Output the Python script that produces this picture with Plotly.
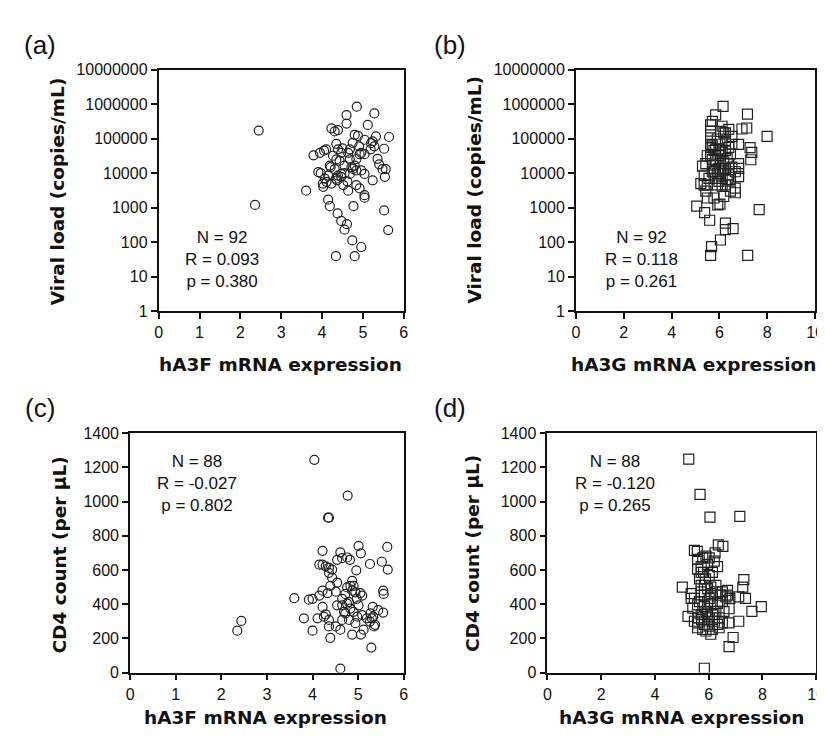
import plotly.graph_objects as go

# ---------------- data ----------------
a3f_vl_x = [2.45, 2.36, 3.61, 3.79, 3.95, 4.10, 3.91, 3.97, 4.02, 4.03, 4.15, 4.21, 4.23, 4.31, 4.39, 4.35,
            4.39, 4.27, 4.35, 4.31, 4.39, 4.37, 4.23, 4.15, 4.19, 4.38, 4.47, 4.55, 4.61, 4.34, 4.60, 4.60,
            4.85, 4.75, 5.12, 5.28, 5.32, 5.64, 5.24, 5.28, 5.52, 5.36, 5.40, 5.48, 5.56, 5.54, 5.24, 5.52,
            5.62, 4.77, 4.96, 4.74, 4.80, 5.04, 5.04, 4.92, 4.84, 4.64, 4.52, 5.04, 4.96, 4.84, 4.72, 4.80,
            4.68, 4.55, 4.47, 4.84, 4.92, 4.96, 5.04, 4.91, 5.04, 4.68, 4.64, 4.47, 4.43, 4.55, 4.47, 4.07,
            4.11, 4.80, 4.88, 4.50, 4.19, 4.34, 4.68, 4.76, 4.05, 5.20, 5.19, 4.62]
a3f_vl_y = [172000, 1200, 3100, 33000, 39000, 49000, 10700, 10000, 5000, 4000, 8500, 15000, 200000, 162000,
            178000, 71000, 49000, 32000, 25000, 13000, 8500, 6200, 5000, 1700, 1100, 680, 410, 230, 330, 39,
            480000, 275000, 850000, 76000, 250000, 540000, 117000, 112000, 83000, 60000, 51000, 26000, 18000,
            13000, 13000, 7800, 6200, 830, 224, 1100, 72, 112, 39, 2300, 1950, 3600, 4500, 3100, 4500, 9500,
            12000, 12000, 15000, 16600, 9500, 10000, 7800, 25700, 35500, 39000, 35500, 60000, 93000, 49000,
            39000, 39000, 23000, 16600, 9500, 6900, 5600, 129000, 120000, 52000, 16600, 6900, 25000, 13200,
            45000, 74000, 49000, 5800]

a3g_vl_x = [6.15, 5.84, 5.70, 5.63, 7.17, 6.94, 7.14, 7.99, 7.28, 7.35, 7.31, 6.80, 6.52, 6.18, 6.04, 6.25,
            5.63, 5.63, 5.70, 5.49, 5.63, 5.29, 5.36, 5.22, 5.36, 5.43, 5.49, 5.05, 5.38, 5.59, 5.93, 6.02,
            6.25, 6.25, 6.57, 6.04, 5.67, 5.63, 7.18, 7.66, 5.77, 6.18, 6.46, 6.66, 6.66, 6.80, 6.80, 6.80,
            6.52, 6.39, 6.46, 6.25, 6.11, 5.91, 5.77, 5.70, 5.98, 6.04, 5.84, 5.98, 6.11, 6.25, 6.39, 6.52,
            5.77, 5.84, 5.98, 5.63, 6.32, 6.39, 6.25, 5.84, 5.98, 6.11, 5.49, 5.56, 5.91, 6.02, 6.25, 6.39,
            6.11, 5.63, 5.43, 6.66, 6.46, 6.18, 6.04, 5.77, 5.91, 6.32, 5.70, 6.18]
a3g_vl_y = [870000, 490000, 316000, 251000, 513000, 191000, 204000, 117000, 55000, 40000, 24500, 68000,
            117000, 148000, 162000, 85000, 105000, 68000, 62000, 32000, 32000, 16000, 8700, 5000, 4500, 3000,
            1900, 1100, 720, 430, 1200, 1260, 355, 230, 245, 115, 74, 41, 41, 870, 1900, 2100, 3000, 2700,
            3700, 7900, 13800, 19000, 15000, 8900, 6500, 4600, 7100, 9800, 11000, 11000, 13800, 19000, 23400,
            32400, 40700, 45700, 56000, 69000, 45700, 50000, 50000, 56000, 26300, 19000, 13800, 7100, 5800,
            4200, 4600, 7100, 98000, 69000, 148000, 186000, 229000, 166000, 19000, 11000, 36300, 21400, 9800,
            17000, 4600, 6500, 25100, 12300]

a3f_cd4_x = [4.04, 4.77, 4.34, 4.36, 5.01, 5.06, 5.64, 5.65, 5.52, 5.26, 4.96, 4.22, 4.61, 4.65, 4.76, 4.82,
             4.54, 4.15, 4.22, 4.29, 4.36, 4.43, 4.36, 4.43, 4.54, 4.39, 4.22, 4.15, 4.00, 3.92, 3.60, 4.33,
             4.51, 4.65, 4.76, 4.83, 4.90, 4.87, 4.94, 5.05, 5.09, 5.01, 4.83, 4.76, 4.65, 4.72, 4.90, 5.09,
             5.27, 5.32, 5.44, 5.55, 5.55, 5.56, 5.33, 5.35, 5.37, 5.26, 5.29, 5.12, 5.06, 4.87, 4.94, 4.80,
             4.65, 4.61, 4.51, 4.36, 4.39, 4.00, 4.36, 4.25, 4.29, 4.11, 3.81, 4.61, 2.44, 2.35, 4.80, 4.97,
             4.87, 4.72, 4.54, 4.22, 5.30, 4.69, 4.98, 5.19]
a3f_cd4_y = [1244, 1035, 906, 906, 741, 697, 735, 602, 648, 635, 598, 712, 703, 669, 673, 659, 659, 631, 631,
             621, 612, 602, 583, 555, 526, 507, 479, 450, 431, 426, 435, 465, 473, 431, 498, 507, 507, 536, 469,
             465, 450, 393, 374, 403, 393, 346, 355, 336, 346, 384, 365, 351, 479, 460, 327, 270, 279, 298, 146,
             251, 222, 222, 289, 308, 308, 251, 270, 270, 203, 245, 308, 327, 340, 317, 317, 23, 302, 245, 412,
             431, 479, 460, 393, 384, 317, 355, 327, 317]

a3g_cd4_x = [5.26, 5.68, 6.05, 7.16, 5.47, 5.58, 6.36, 6.53, 6.24, 5.90, 6.21, 6.33, 5.96, 5.72, 5.59, 5.81,
             5.88, 5.84, 5.02, 5.35, 5.47, 5.72, 5.96, 6.08, 6.27, 6.51, 6.70, 7.31, 7.27, 7.12, 7.37, 7.61,
             7.96, 6.76, 7.12, 6.91, 6.76, 5.84, 5.23, 5.47, 5.59, 5.78, 5.90, 6.08, 6.14, 6.33, 6.51, 6.76,
             5.72, 5.90, 6.02, 6.21, 6.39, 6.57, 6.33, 6.08, 5.84, 5.59, 5.41, 5.66, 5.96, 6.64, 6.51, 6.79,
             5.66, 5.72, 6.02, 6.14, 5.59, 5.78, 6.02, 5.35, 5.62, 5.84, 6.02, 5.59, 5.74, 5.96, 6.27, 6.39,
             6.14, 5.72, 6.08, 6.27, 6.70, 5.84, 6.45, 6.02]
a3g_cd4_y = [1248, 1042, 909, 913, 715, 709, 747, 738, 700, 681, 652, 620, 633, 620, 605, 586, 548, 510, 500,
             462, 434, 472, 491, 462, 472, 472, 481, 544, 500, 443, 434, 358, 386, 373, 300, 205, 152, 25, 329,
             300, 262, 253, 243, 224, 253, 281, 291, 291, 339, 358, 320, 300, 320, 358, 405, 396, 386, 396, 377,
             415, 415, 443, 415, 434, 548, 586, 567, 586, 662, 671, 671, 434, 320, 281, 272, 291, 310, 348, 358,
             262, 339, 510, 500, 510, 453, 453, 453, 434]

vl_tickvals = [1, 10, 100, 1000, 10000, 100000, 1000000, 10000000]
vl_ticktext = ["1", "10", "100", "1000", "10000", "100000", "1000000", "10000000"]
cd4_tickvals = [0, 200, 400, 600, 800, 1000, 1200, 1400]
a3f_tickvals = [0, 1, 2, 3, 4, 5, 6]
a3g_tickvals = [0, 2, 4, 6, 8, 10]

stats_a = ["N = 92", "R = 0.093", "p = 0.380"]
stats_b = ["N = 92", "R = 0.118", "p = 0.261"]
stats_c = ["N = 88", "R = -0.027", "p = 0.802"]
stats_d = ["N = 88", "R = -0.120", "p = 0.265"]

# ---------------- figure ----------------
W, H = 825, 739
def px(x):
    return x / W
def py(y):
    return 1 - y / H

fig = go.Figure()
mk_c = dict(symbol="circle-open", size=9, color="#222", line=dict(width=1.2, color="#222"))
mk_s = dict(symbol="square-open", size=10, color="#222", line=dict(width=1.2, color="#222"))

fig.add_trace(go.Scatter(x=a3f_vl_x, y=a3f_vl_y, mode="markers", marker=mk_c, xaxis="x", yaxis="y", showlegend=False))
fig.add_trace(go.Scatter(x=a3g_vl_x, y=a3g_vl_y, mode="markers", marker=mk_s, xaxis="x2", yaxis="y2", showlegend=False))
fig.add_trace(go.Scatter(x=a3f_cd4_x, y=a3f_cd4_y, mode="markers", marker=mk_c, xaxis="x3", yaxis="y3", showlegend=False))
fig.add_trace(go.Scatter(x=a3g_cd4_x, y=a3g_cd4_y, mode="markers", marker=mk_s, xaxis="x4", yaxis="y4", showlegend=False))

tickfont = dict(family="Liberation Sans, Arial, sans-serif", size=16, color="#111")
common = dict(showline=True, mirror=True, linecolor="#111", linewidth=1.8, ticks="outside", ticklen=6,
              tickwidth=1.5, tickcolor="#111", showgrid=False, zeroline=False, tickfont=tickfont)

dom = {
    "a": ([px(149), px(398)], [py(302), py(55)]),
    "b": ([px(573), px(816)], [py(302), py(55)]),
    "c": ([px(120), px(398)], [py(672), py(427)]),
    "d": ([px(544), px(817)], [py(672), py(427)]),
}

fig.update_layout(
    width=W, height=H, margin=dict(l=0, r=0, t=0, b=0),
    paper_bgcolor="white", plot_bgcolor="white",
    xaxis=dict(domain=dom["a"][0], anchor="y", range=[0, 6], tickvals=a3f_tickvals, **common),
    yaxis=dict(domain=dom["a"][1], anchor="x", type="log", range=[0, 7], tickvals=vl_tickvals, ticktext=vl_ticktext, **common),
    xaxis2=dict(domain=dom["b"][0], anchor="y2", range=[0, 10], tickvals=a3g_tickvals, **common),
    yaxis2=dict(domain=dom["b"][1], anchor="x2", type="log", range=[0, 7], tickvals=vl_tickvals, ticktext=vl_ticktext, **common),
    xaxis3=dict(domain=dom["c"][0], anchor="y3", range=[0, 6], tickvals=a3f_tickvals, **common),
    yaxis3=dict(domain=dom["c"][1], anchor="x3", range=[0, 1400], tickvals=cd4_tickvals, **common),
    xaxis4=dict(domain=dom["d"][0], anchor="y4", range=[0, 10], tickvals=a3g_tickvals, **common),
    yaxis4=dict(domain=dom["d"][1], anchor="x4", range=[0, 1400], tickvals=cd4_tickvals, **common),
)

xtitle_font = dict(family="DejaVu Sans, Verdana, sans-serif", size=18.5, color="#111")
ytitle_font = dict(family="DejaVu Sans, Verdana, sans-serif", size=18.5, color="#111")
label_font = dict(family="Liberation Sans, Arial, sans-serif", size=26, color="#111")
stat_font = dict(family="Liberation Sans, Arial, sans-serif", size=17, color="#111")

ann = []
def add(text, x, y, font, angle=0):
    ann.append(dict(text=text, x=px(x), y=py(y), xref="paper", yref="paper", showarrow=False,
                    xanchor="center", yanchor="middle", font=font, textangle=angle))

# panel labels
add("(a)", 28, 30, label_font)
add("(b)", 445, 30, label_font)
add("(c)", 28, 401, label_font)
add("(d)", 445, 401, label_font)

# axis titles
add("<b>hA3F mRNA expression</b>", 273, 357, xtitle_font)
add("<b>hA3G mRNA expression</b>", 692, 357, xtitle_font)
add("<b>hA3F mRNA expression</b>", 258, 718, xtitle_font)
add("<b>hA3G mRNA expression</b>", 680, 718, xtitle_font)
add("<b>Viral load (copies/mL)</b>", 47, 179, ytitle_font, -90)
add("<b>Viral load (copies/mL)</b>", 470, 178, ytitle_font, -90)
add("<b>CD4 count (per μL)</b>", 48, 552, ytitle_font, -90)
add("<b>CD4 count (per μL)</b>", 468, 550, ytitle_font, -90)

# stats
add("<br>".join(stats_a), 213, 249, stat_font)
add("<br>".join(stats_b), 640, 249, stat_font)
add("<br>".join(stats_c), 188, 478, stat_font)
add("<br>".join(stats_d), 613, 478, stat_font)

fig.update_layout(annotations=ann)
fig.write_html("out.html")
